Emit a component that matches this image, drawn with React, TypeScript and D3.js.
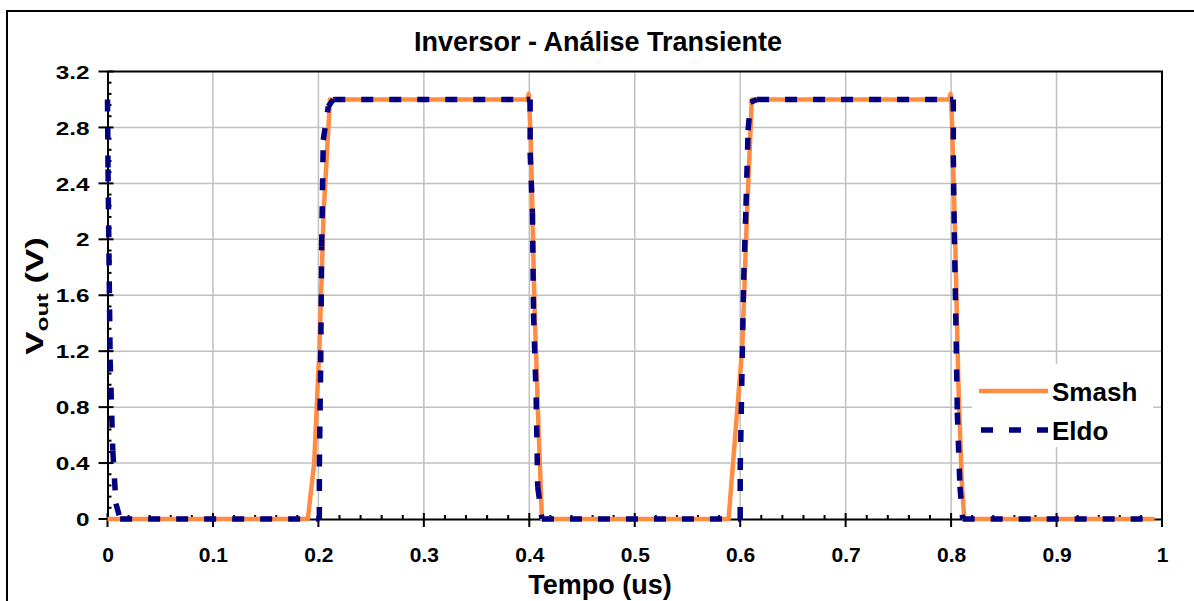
import React, { useEffect, useRef } from 'react';
import * as d3 from 'd3';

// Smash (orange) and Eldo (navy dashed) transient output, time in us
const smashTime = [0, 0.19, 0.196, 0.201, 0.205, 0.211, 0.398, 0.3995, 0.4015, 0.405, 0.409, 0.412, 0.589, 0.595, 0.602, 0.6065, 0.611, 0.798, 0.7995, 0.8006, 0.8037, 0.8068, 0.81, 0.8125, 0.993];
const smashVout = [0, 0, 0.4, 1.23, 2.2, 3.0, 3.0, 3.04, 2.7, 1.5, 0.6, 0, 0, 0.57, 1.23, 2.19, 3.0, 3.0, 3.04, 2.9, 2.07, 1.0, 0.28, 0, 0];

const eldoTime = [0, 0.0005, 0.0025, 0.005, 0.008, 0.012, 0.2009, 0.2009, 0.2022, 0.2031, 0.2046, 0.2094, 0.2141, 0.3976, 0.4008, 0.4008, 0.403, 0.404, 0.4065, 0.408, 0.412, 0.6, 0.6, 0.6033, 0.6055, 0.6075, 0.6097, 0.616, 0.799, 0.8021, 0.8021, 0.803, 0.8044, 0.8059, 0.8084, 0.811, 0.993];
const eldoVout = [3.0, 2.5, 1.14, 0.49, 0.11, 0, 0, 0.375, 1.12, 1.95, 2.71, 2.95, 3.0, 3.0, 3.0, 2.62, 2.19, 1.47, 0.87, 0.23, 0, 0, 0.35, 1.71, 2.24, 2.78, 2.98, 3.0, 3.0, 3.0, 2.6, 2.05, 1.47, 0.76, 0.23, 0, 0];

const xTicks = [0, 0.1, 0.2, 0.3, 0.4, 0.5, 0.6, 0.7, 0.8, 0.9, 1];
const yTicks = [0, 0.4, 0.8, 1.2, 1.6, 2, 2.4, 2.8, 3.2];
const seriesNames = ['Smash', 'Eldo'];

const ORANGE = '#ff8c42';
const NAVY = '#000080';
const FONT = '"Liberation Sans", Arial, sans-serif';

export default function App() {
  const svgRef = useRef<SVGSVGElement>(null);

  useEffect(() => {
    if (!svgRef.current) return;
    const svg = d3.select(svgRef.current);
    svg.selectAll('*').remove();

    const left = 107.5, right = 1162, top = 71.5, bottom = 519;

    const x = d3.scaleLinear().domain([0, 1]).range([left, right]);
    const y = d3.scaleLinear().domain([0, 3.2]).range([bottom, top]);

    // outer chart border
    svg.append('rect')
      .attr('x', 7).attr('y', 11).attr('width', 1200).attr('height', 620)
      .attr('fill', 'white').attr('stroke', 'black').attr('stroke-width', 2);

    // gridlines
    const grid = svg.append('g').attr('stroke', '#c0c0c0').attr('stroke-width', 1.5);
    grid.selectAll('line.v').data(xTicks.slice(1, -1)).enter().append('line')
      .attr('x1', d => x(d)).attr('x2', d => x(d)).attr('y1', top).attr('y2', bottom);
    grid.selectAll('line.h').data(yTicks.slice(1, -1)).enter().append('line')
      .attr('x1', left).attr('x2', right).attr('y1', d => y(d)).attr('y2', d => y(d));

    // plot area border (top / right)
    svg.append('path')
      .attr('d', `M${left},${top}H${right}V${bottom}`)
      .attr('fill', 'none').attr('stroke', 'black').attr('stroke-width', 2);

    // axes
    const xAxis = svg.append('g').attr('transform', `translate(0,${bottom})`)
      .call(d3.axisBottom(x).tickValues(xTicks).tickSize(0).tickFormat(d => String(d)));
    xAxis.select('.domain').attr('stroke', 'black').attr('stroke-width', 2);
    xAxis.selectAll('text').attr('font-family', FONT).attr('font-weight', 'bold')
      .attr('font-size', 21).attr('fill', 'black').attr('dy', 0).attr('y', 43);

    const yAxis = svg.append('g').attr('transform', `translate(${left},0)`)
      .call(d3.axisLeft(y).tickValues(yTicks).tickSize(0).tickFormat(d => String(d)));
    yAxis.select('.domain').attr('stroke', 'black').attr('stroke-width', 2);
    // the y labels are drawn a bit wider than normal in the source
    yAxis.selectAll('.tick text').attr('font-family', FONT).attr('font-weight', 'bold')
      .attr('font-size', 19).attr('fill', 'black').attr('x', 0).attr('dy', '0.35em')
      .attr('transform', 'translate(-18,0) scale(1.28,1)');

    const ticks = svg.append('g').attr('stroke', 'black').attr('stroke-width', 2);
    const xMinor = d3.range(0, 51).map(i => i * 0.02).filter(v => Math.round(v * 50) % 5 !== 0);
    const yMinor = d3.range(0, 41).map(i => i * 0.08).filter(v => Math.round(v * 12.5) % 5 !== 0);
    ticks.selectAll('line.xm').data(xTicks).enter().append('line')
      .attr('x1', d => x(d)).attr('x2', d => x(d)).attr('y1', bottom - 6).attr('y2', bottom + 8);
    ticks.selectAll('line.xn').data(xMinor).enter().append('line')
      .attr('x1', d => x(d)).attr('x2', d => x(d)).attr('y1', bottom - 4).attr('y2', bottom);
    ticks.selectAll('line.ym').data(yTicks).enter().append('line')
      .attr('x1', left - 9).attr('x2', left + 6).attr('y1', d => y(d)).attr('y2', d => y(d));
    ticks.selectAll('line.yn').data(yMinor).enter().append('line')
      .attr('x1', left).attr('x2', left + 4).attr('y1', d => y(d)).attr('y2', d => y(d));

    // series
    const smash = smashTime.map((t, i) => [x(t), y(smashVout[i])] as [number, number]);
    const eldo = eldoTime.map((t, i) => [x(t), y(eldoVout[i])] as [number, number]);
    const line = d3.line();

    svg.append('path').attr('d', line(smash)!)
      .attr('fill', 'none').attr('stroke', ORANGE).attr('stroke-width', 4.5)
      .attr('stroke-linejoin', 'round');

    // Excel restarts the dash pattern at each data point
    const eg = svg.append('g');
    for (let i = 0; i < eldo.length - 1; i++) {
      eg.append('path').attr('d', line([eldo[i], eldo[i + 1]])!)
        .attr('fill', 'none').attr('stroke', NAVY).attr('stroke-width', 5.5)
        .attr('stroke-dasharray', '12,16');
    }

    // legend
    const lg = svg.append('g');
    lg.append('rect').attr('x', 972).attr('y', 364).attr('width', 181).attr('height', 83).attr('fill', 'white');
    lg.append('line').attr('x1', 979).attr('x2', 1048).attr('y1', 391).attr('y2', 391)
      .attr('stroke', ORANGE).attr('stroke-width', 4.5);
    lg.append('line').attr('x1', 981).attr('x2', 1048).attr('y1', 430).attr('y2', 430)
      .attr('stroke', NAVY).attr('stroke-width', 5.5).attr('stroke-dasharray', '12,16');
    lg.selectAll('text').data(seriesNames).enter().append('text')
      .attr('x', 1052).attr('y', (_, i) => 401 + i * 39)
      .attr('font-family', FONT).attr('font-weight', 'bold').attr('font-size', 26)
      .text(d => d);

    // titles
    svg.append('text').attr('x', 598).attr('y', 51).attr('text-anchor', 'middle')
      .attr('font-family', FONT).attr('font-weight', 'bold').attr('font-size', 27)
      .text('Inversor - Análise Transiente');

    svg.append('text').attr('x', 600).attr('y', 594).attr('text-anchor', 'middle')
      .attr('font-family', FONT).attr('font-weight', 'bold').attr('font-size', 27)
      .text('Tempo (us)');

    // rotated y title, stretched along its length like the source
    const yl = svg.append('text').attr('transform', 'translate(43,296) rotate(-90) scale(1.45,1)')
      .attr('text-anchor', 'middle')
      .attr('font-family', FONT).attr('font-weight', 'bold').attr('font-size', 24);
    yl.append('tspan').text('V');
    yl.append('tspan').attr('font-size', 17).attr('dy', 5).text('out');
    yl.append('tspan').attr('dy', -5).text(' (V)');
  }, []);

  return (
    <div style={{ position: 'absolute', left: 0, top: 0 }}>
      <svg ref={svgRef} width={1194} height={601} style={{ display: 'block' }} />
    </div>
  );
}
